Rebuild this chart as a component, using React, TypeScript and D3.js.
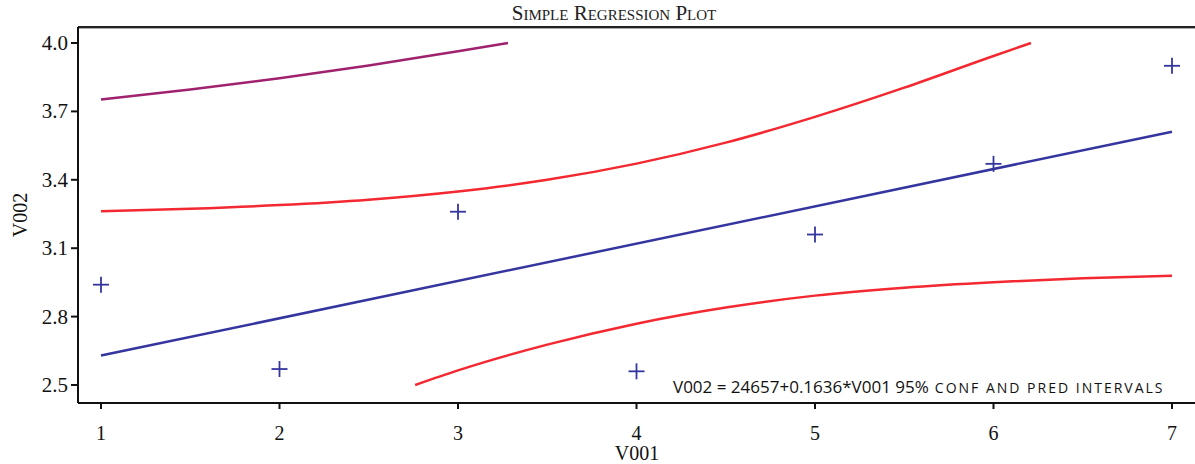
import React from "react";
import * as d3 from "d3";

// observed points
const xObs = [1, 2, 3, 4, 5, 6, 7];
const yObs = [2.94, 2.57, 3.26, 2.56, 3.16, 3.47, 3.9];

// fitted line ends
const fitX = [1, 7];
const fitY = [2.629, 3.611];

// 95% confidence band, upper and lower (clipped at the axis range)
const confUpX = [1, 1.5, 2, 2.5, 3, 3.5, 4, 4.5, 5, 5.5, 6, 6.21];
const confUpY = [3.262, 3.273, 3.289, 3.313, 3.349, 3.4, 3.471, 3.563, 3.676, 3.804, 3.943, 4.0];
const confLoX = [2.76, 3, 3.5, 4, 4.5, 5, 5.5, 6, 6.5, 7];
const confLoY = [2.5, 2.564, 2.677, 2.769, 2.84, 2.892, 2.927, 2.951, 2.968, 2.979];

// 95% prediction band, upper (only part inside the range)
const predUpX = [1, 1.5, 2, 2.5, 3, 3.28];
const predUpY = [3.752, 3.796, 3.845, 3.901, 3.964, 4.0];

const xTicks = [1, 2, 3, 4, 5, 6, 7];
const yTicks = [2.5, 2.8, 3.1, 3.4, 3.7, 4.0];

const W = 1195;
const H = 464;
const left = 78;
const top = 27;
const bottom = 403;

const App: React.FC = () => {
  const x = d3.scaleLinear().domain([1, 7]).range([101, 1172]);
  const y = d3.scaleLinear().domain([2.5, 4.0]).range([385, 43]);

  const line = d3
    .line<[number, number]>()
    .x((d) => x(d[0]))
    .y((d) => y(d[1]))
    .curve(d3.curveMonotoneX);

  const zip = (xs: number[], ys: number[]) =>
    xs.map((v, i) => [v, ys[i]] as [number, number]);

  const serif = "'Liberation Serif', 'DejaVu Serif', serif";
  const sans = "'Open Sans', 'Noto Sans', sans-serif";

  return (
    <svg
      width={W}
      height={H}
      style={{ position: "absolute", left: 0, top: 0, background: "#fff" }}
    >
      <text
        x={614}
        y={20}
        textAnchor="middle"
        fontFamily={serif}
        fontSize={21}
        style={{ fontVariant: "small-caps" }}
        fill="#222"
      >
        Simple Regression Plot
      </text>

      {/* frame */}
      <line x1={left} x2={W} y1={top + 1} y2={top + 1} stroke="#aaa" strokeWidth={2} />
      <line x1={left} x2={W} y1={top} y2={top} stroke="#222" strokeWidth={2} />
      <line x1={left} x2={left} y1={top} y2={bottom} stroke="#111" strokeWidth={2} />
      <line x1={left} x2={W} y1={bottom} y2={bottom} stroke="#111" strokeWidth={2} />

      {/* y axis */}
      {yTicks.map((t) => (
        <g key={t}>
          <line x1={left - 7} x2={left} y1={y(t)} y2={y(t)} stroke="#111" strokeWidth={2} />
          <text
            x={left - 10}
            y={y(t) + 7}
            textAnchor="end"
            fontFamily={serif}
            fontSize={21}
            fill="#111"
          >
            {t.toFixed(1)}
          </text>
        </g>
      ))}
      <text
        transform={`translate(27,${(top + bottom) / 2}) rotate(-90)`}
        textAnchor="middle"
        fontFamily={serif}
        fontSize={20}
        fill="#111"
      >
        V002
      </text>

      {/* x axis */}
      {xTicks.map((t) => (
        <g key={t}>
          <line x1={x(t)} x2={x(t)} y1={bottom} y2={bottom + 6} stroke="#111" strokeWidth={2} />
          <text
            x={x(t)}
            y={440}
            textAnchor="middle"
            fontFamily={serif}
            fontSize={20}
            fill="#111"
          >
            {t}
          </text>
        </g>
      ))}
      <text x={637} y={460} textAnchor="middle" fontFamily={serif} fontSize={20} fill="#111">
        V001
      </text>

      {/* bands and fit */}
      <path d={line(zip(predUpX, predUpY)) ?? ""} fill="none" stroke="#a0226e" strokeWidth={2.5} />
      <path d={line(zip(confUpX, confUpY)) ?? ""} fill="none" stroke="#f42830" strokeWidth={2.5} />
      <path d={line(zip(confLoX, confLoY)) ?? ""} fill="none" stroke="#f42830" strokeWidth={2.5} />
      <path d={line(zip(fitX, fitY)) ?? ""} fill="none" stroke="#3535a0" strokeWidth={2.5} />

      {/* observations */}
      {xObs.map((v, i) => (
        <g key={i} stroke="#3535a0" strokeWidth={1.8}>
          <line x1={x(v) - 8} x2={x(v) + 8} y1={y(yObs[i])} y2={y(yObs[i])} />
          <line x1={x(v)} x2={x(v)} y1={y(yObs[i]) - 8} y2={y(yObs[i]) + 8} />
        </g>
      ))}

      <text x={673} y={393} fontFamily={sans} fill="#111" fontSize={17}>
        V002 = 24657+0.1636*V001 95%
        <tspan fontSize={14} dx={6} letterSpacing={2}>
          CONF AND PRED INTERVALS
        </tspan>
      </text>
    </svg>
  );
};

export default App;
